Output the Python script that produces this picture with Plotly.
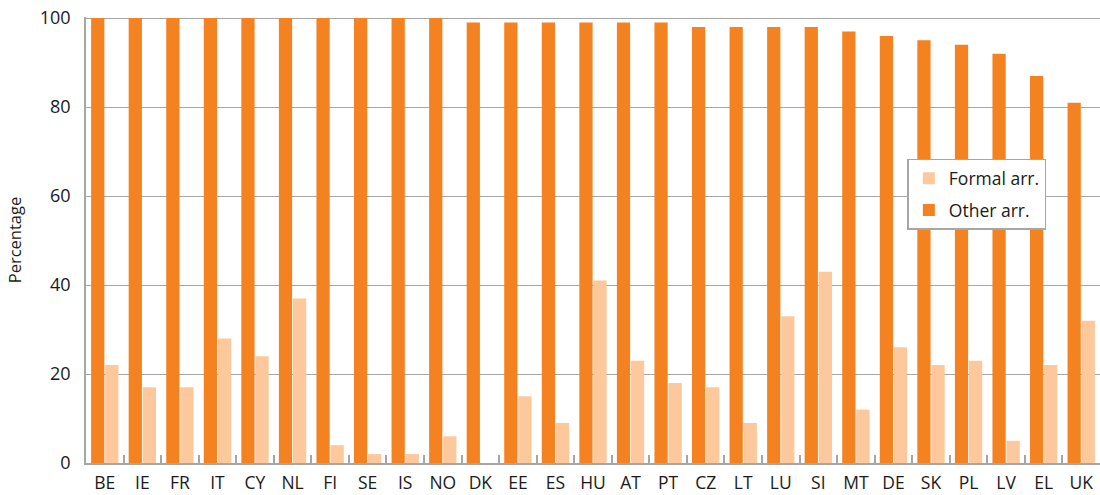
import plotly.graph_objects as go

countries = ["BE", "IE", "FR", "IT", "CY", "NL", "FI", "SE", "IS", "NO", "DK", "EE", "ES", "HU",
             "AT", "PT", "CZ", "LT", "LU", "SI", "MT", "DE", "SK", "PL", "LV", "EL", "UK"]
other_arr = [100, 100, 100, 100, 100, 100, 100, 100, 100, 100, 99, 99, 99, 99,
             99, 99, 98, 98, 98, 98, 97, 96, 95, 94, 92, 87, 81]
formal_arr = [22, 17, 17, 28, 24, 37, 4, 2, 2, 6, 0, 15, 9, 41,
              23, 18, 17, 9, 33, 43, 12, 26, 22, 23, 5, 22, 32]

font_family = "Open Sans, Noto Sans, sans-serif"

fig = go.Figure()
fig.add_trace(go.Bar(x=countries, y=other_arr, name="Other arr.", legendgroup="o",
                     legendrank=2,
                     marker=dict(color="#F58220", line=dict(width=0))))
fig.add_trace(go.Bar(x=countries, y=formal_arr, name="Formal arr.", legendgroup="f",
                     legendrank=1,
                     marker=dict(color="#FDC89B", line=dict(width=0))))

fig.update_layout(
    width=1100, height=495,
    margin=dict(l=86, r=0, t=17, b=32),
    paper_bgcolor="white", plot_bgcolor="white",
    barmode="group", bargap=0.25, bargroupgap=0.06,
    font=dict(family=font_family, color="#1a1a1a", size=17),
    legend=dict(x=0.81, y=0.682, xanchor="left", yanchor="top",
                traceorder="grouped", tracegroupgap=6,
                bgcolor="white", entrywidth=126,
                bordercolor="#A6A6A6", borderwidth=1.5,
                font=dict(size=17.5, family=font_family)),
    xaxis=dict(showline=True, linecolor="#A6A6A6", linewidth=1.5,
               ticks="inside", tickson="boundaries", ticklen=8, tickcolor="#A6A6A6",
               tickwidth=1.5, tickfont=dict(size=17.5), showgrid=False,
               ticklabelstandoff=3),
    yaxis=dict(range=[0, 100.25], tickvals=[0, 20, 40, 60, 80, 100],
               showline=True, linecolor="#A6A6A6", linewidth=1.5,
               showgrid=True, gridcolor="#A6A6A6", gridwidth=1.2,
               ticks="", tickfont=dict(size=18), zeroline=False,
               ticklabelstandoff=10,
               title=dict(text="Percentage", font=dict(size=16.5), standoff=14)),
)

fig.write_html("out.html", config={"displayModeBar": False},
               post_script="document.body.style.margin='0';document.body.style.padding='0';")
